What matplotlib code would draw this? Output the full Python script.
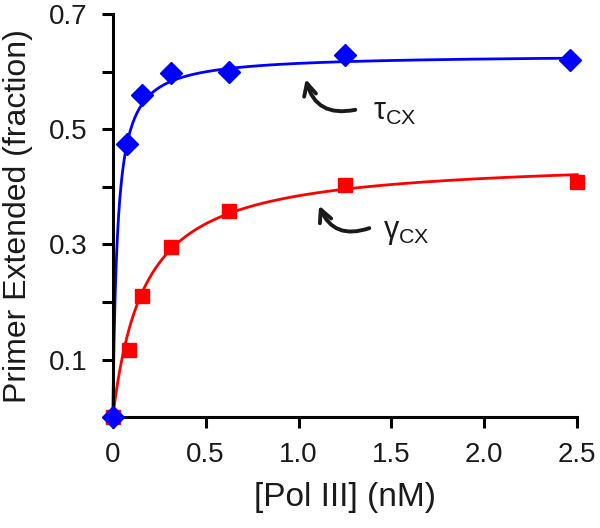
import numpy as np
import matplotlib
matplotlib.use('Agg')
import matplotlib.pyplot as plt

plt.rcParams['font.family'] = ['Liberation Sans', 'DejaVu Sans']

# data
pol_tau = [0, 0.078, 0.156, 0.3125, 0.625, 1.25, 2.46]
ext_tau = [0, 0.475, 0.56, 0.598, 0.60, 0.63, 0.62]
pol_gamma = [0, 0.086, 0.156, 0.3125, 0.625, 1.25, 2.5]
ext_gamma = [0, 0.116, 0.21, 0.296, 0.358, 0.403, 0.408]

# hyperbolic fit parameters (Vmax, K)
fit_tau = (0.63, 0.025)
fit_gamma = (0.45, 0.17)

x_ticks = [0, 0.5, 1.0, 1.5, 2.0, 2.5]
x_tick_labels = ['0', '0.5', '1.0', '1.5', '2.0', '2.5']
y_major = [0.1, 0.3, 0.5, 0.7]
y_minor = [0.2, 0.4, 0.6]

fig = plt.figure(figsize=(6, 5.28), dpi=100)
ax = fig.add_axes([0.188, 0.21, 0.774, 0.763])

xx = np.linspace(0, 2.5, 400)
for (vm, k), c in [(fit_tau, '#0000ff'), (fit_gamma, '#ff0000')]:
    ax.plot(xx, vm * xx / (k + xx), color=c, lw=2, clip_on=False, zorder=2)

ax.plot(pol_gamma, ext_gamma, 's', color='#ff0000', ms=10, clip_on=False, zorder=3)
ax.plot(pol_tau, ext_tau, 'D', color='#0000ff', ms=11, clip_on=False, zorder=4)

ax.set_xlim(0, 2.5)
ax.set_ylim(0, 0.7)
ax.set_xticks(x_ticks)
ax.set_xticklabels(x_tick_labels)
ax.set_yticks(y_major)
ax.set_yticklabels(['0.1', '0.3', '0.5', '0.7'])
ax.set_yticks(y_minor, minor=True)
for s in ['top', 'right']:
    ax.spines[s].set_visible(False)
for s in ['left', 'bottom']:
    ax.spines[s].set_linewidth(2.2)
ax.tick_params(which='both', direction='out', length=8, width=2.2, labelsize=20, colors='black')
ax.tick_params(axis='y', pad=10)
ax.tick_params(axis='x', pad=10)
ax.tick_params(labelcolor='#1a1a1a')

ax.set_xlabel('[Pol III] (nM)', fontsize=24, color='#1a1a1a', labelpad=10)
ax.set_ylabel('Primer Extended (fraction)', fontsize=23, color='#1a1a1a', labelpad=12)

# curved arrows with labels
ax.annotate('', xy=(1.035, 0.592), xytext=(1.32, 0.535),
            arrowprops=dict(arrowstyle='->', lw=2.8, color='#1a1a1a',
                            connectionstyle='arc3,rad=-0.5', mutation_scale=22))
ax.text(1.40, 0.53, r'$\mathregular{\tau_{CX}}$', fontsize=22, va='center', color='#1a1a1a')

ax.annotate('', xy=(1.105, 0.372), xytext=(1.395, 0.33),
            arrowprops=dict(arrowstyle='->', lw=2.8, color='#1a1a1a',
                            connectionstyle='arc3,rad=-0.5', mutation_scale=22))
ax.text(1.455, 0.322, r'$\mathregular{\gamma_{CX}}$', fontsize=22, va='center', color='#1a1a1a')

fig.savefig('out.png', dpi=100)
